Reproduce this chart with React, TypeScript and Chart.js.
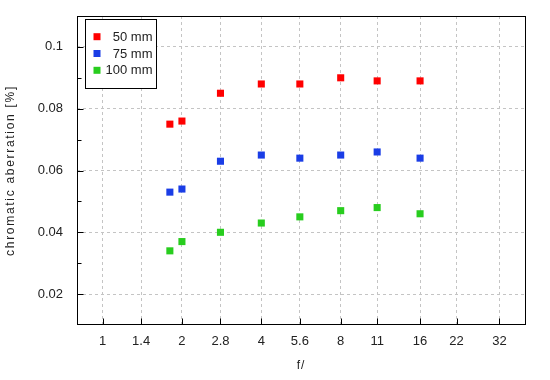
import React, { useEffect, useRef } from 'react';
import { Chart, registerables } from 'chart.js';

Chart.register(...registerables);

// ---- data ----
const fNumbers = [1.8, 2, 2.8, 4, 5.6, 8, 11, 16];
const ca50 = [0.075, 0.076, 0.085, 0.088, 0.088, 0.09, 0.089, 0.089];
const ca75 = [0.053, 0.054, 0.063, 0.065, 0.064, 0.065, 0.066, 0.064];
const ca100 = [0.034, 0.037, 0.04, 0.043, 0.045, 0.047, 0.048, 0.046];
const seriesLabels = ['50 mm', '75 mm', '100 mm'];
const seriesColors = ['#ff0000', '#1a3de6', '#28cd1e'];
const xTicks = [1, 1.4, 2, 2.8, 4, 5.6, 8, 11, 16, 22, 32];
const yTicks = [0.02, 0.04, 0.06, 0.08, 0.1];
const yMinorTicks = [0.03, 0.05, 0.07, 0.09];
const xTitle = 'f/';
const yTitle = 'chromatic aberration [%]';

const FONT = "'Liberation Sans', Arial, sans-serif";
const TEXT = '#222222';

const decorPlugin = {
  id: 'decor',
  afterDraw(chart: any) {
    const ctx: CanvasRenderingContext2D = chart.ctx;
    const area = chart.chartArea;
    const xs = chart.scales.x;
    const ys = chart.scales.y;
    const L = Math.round(area.left) + 0.5;
    const R = Math.round(area.right) + 0.5;
    const T = Math.round(area.top) + 0.5;
    const B = Math.round(area.bottom) - 0.5;
    ctx.save();
    // frame
    ctx.strokeStyle = '#000';
    ctx.lineWidth = 1;
    ctx.setLineDash([]);
    ctx.strokeRect(L, T, R - L, B - T);
    // inward ticks
    ctx.beginPath();
    yTicks.forEach((v) => {
      const y = Math.round(ys.getPixelForValue(v)) + 0.5;
      ctx.moveTo(L, y);
      ctx.lineTo(L + 6, y);
    });
    yMinorTicks.forEach((v) => {
      const y = Math.round(ys.getPixelForValue(v)) + 0.5;
      ctx.moveTo(L, y);
      ctx.lineTo(L + 4, y);
    });
    xTicks.forEach((v) => {
      const x = Math.round(xs.getPixelForValue(v)) + 0.5;
      ctx.moveTo(x, B);
      ctx.lineTo(x, B - 6);
    });
    ctx.stroke();

    // titles
    ctx.fillStyle = TEXT;
    ctx.font = `12px ${FONT}`;
    ctx.textAlign = 'center';
    ctx.textBaseline = 'middle';
    (ctx as any).letterSpacing = '1px';
    ctx.fillText(xTitle, (area.left + area.right) / 2, 366);
    ctx.save();
    ctx.translate(11, (area.top + area.bottom) / 2);
    ctx.rotate(-Math.PI / 2);
    (ctx as any).letterSpacing = '1.7px';
    ctx.fillText(yTitle, 0, 0);
    ctx.restore();
    (ctx as any).letterSpacing = '0px';

    // legend
    const bx = 85.5, by = 19.5, bw = 71, bh = 69;
    ctx.fillStyle = '#fff';
    ctx.fillRect(bx, by, bw, bh);
    ctx.strokeStyle = '#000';
    ctx.strokeRect(bx, by, bw, bh);
    ctx.font = `13px ${FONT}`;
    ctx.textAlign = 'right';
    ctx.textBaseline = 'middle';
    chart.data.datasets.forEach((ds: any, i: number) => {
      const cy = 36.7 + i * 16.8;
      ctx.fillStyle = ds.backgroundColor;
      ctx.fillRect(93.5, cy - 3.5, 7, 7);
      ctx.fillStyle = TEXT;
      ctx.fillText(ds.label, 152.5, cy + 0.5);
    });
    ctx.restore();
  },
};

export default function App() {
  const ref = useRef<HTMLCanvasElement>(null);
  useEffect(() => {
    if (!ref.current) return;
    const series = [ca50, ca75, ca100];
    const chart = new Chart(ref.current, {
      type: 'scatter',
      data: {
        datasets: series.map((vals, i) => ({
          label: seriesLabels[i],
          data: fNumbers.map((f, j) => ({ x: f, y: vals[j] })),
          backgroundColor: seriesColors[i],
          borderColor: seriesColors[i],
          borderWidth: 0,
          pointStyle: 'rect',
          pointRadius: 5,
          pointHoverRadius: 5,
        })),
      },
      options: {
        animation: false,
        responsive: false,
        events: [],
        layout: { padding: { top: 16, right: 25, bottom: 0, left: 0 } },
        plugins: {
          legend: { display: false },
          tooltip: { enabled: false },
          title: { display: false },
        },
        scales: {
          x: {
            type: 'logarithmic',
            min: 0.8,
            max: 40,
            afterBuildTicks: (s: any) => {
              s.ticks = xTicks.map((v) => ({ value: v }));
            },
            afterFit: (s: any) => {
              s.height = 55;
              s.paddingLeft = 0;
              s.paddingRight = 0;
            },
            ticks: {
              autoSkip: false,
              maxRotation: 0,
              minRotation: 0,
              padding: 9,
              color: TEXT,
              font: { family: FONT, size: 13 },
              callback: (v: any) => String(v),
            },
            grid: { color: '#c4c4c4', lineWidth: 1, drawTicks: false },
            border: { display: false, dash: [3, 3] },
          },
          y: {
            type: 'linear',
            min: 0.01,
            max: 0.11,
            afterBuildTicks: (s: any) => {
              s.ticks = yTicks.map((v) => ({ value: v }));
            },
            afterFit: (s: any) => {
              s.width = 77;
              s.paddingTop = 0;
              s.paddingBottom = 0;
            },
            ticks: {
              padding: 14,
              color: TEXT,
              font: { family: FONT, size: 13 },
              callback: (v: any) => String(parseFloat(Number(v).toFixed(3))),
            },
            grid: { color: '#c4c4c4', lineWidth: 1, drawTicks: false },
            border: { display: false, dash: [3, 3] },
          },
        },
      } as any,
      plugins: [decorPlugin],
    });
    return () => chart.destroy();
  }, []);
  return (
    <div style={{ position: 'fixed', left: 0, top: 0, width: 550, height: 380, background: '#fff' }}>
      <canvas ref={ref} width={550} height={380} style={{ display: 'block' }} />
    </div>
  );
}
